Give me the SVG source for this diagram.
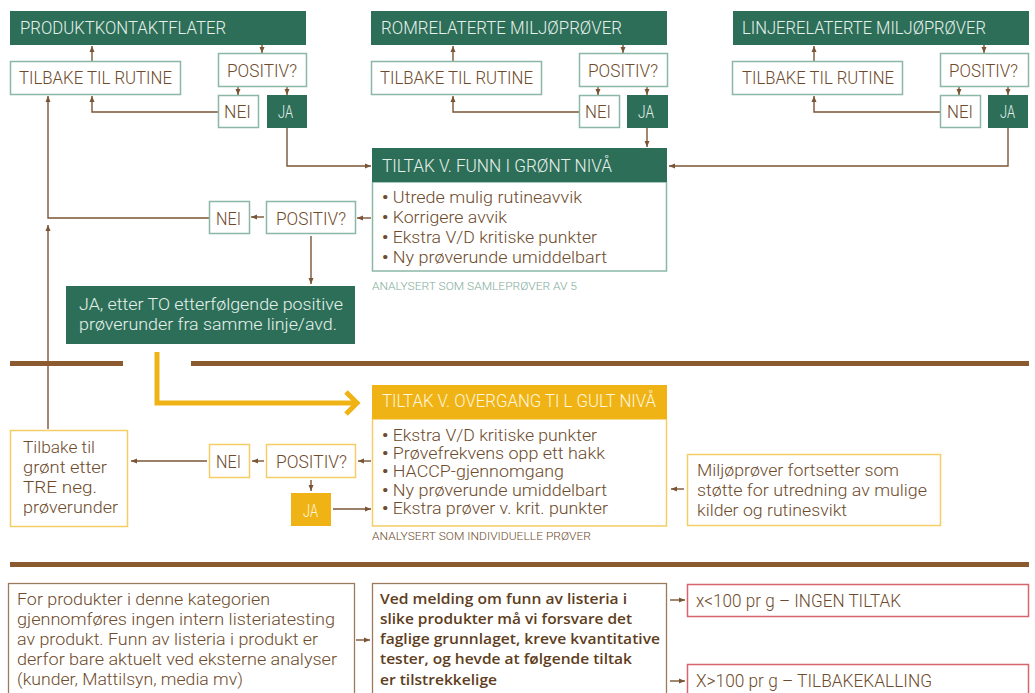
<svg xmlns="http://www.w3.org/2000/svg" width="1035" height="693" viewBox="0 0 1035 693">
<defs>
<style>
text{font-family:Roboto,"Liberation Sans",sans-serif;font-size:17px;font-weight:300;fill:#6e4b2c}
.l{font-size:18px}
.ht{fill:#e6f1eb}
.wt{fill:#fff6df}
.hdr{fill:#2d6e58}
.gold{fill:#f0b315}
.gb{fill:#fff;stroke:#8bb7a6;stroke-width:1.5}
.yb{fill:#fff;stroke:#f4cd66;stroke-width:1.5}
.bb{fill:#fff;stroke:#9c7a5c;stroke-width:1.3}
.rb{fill:#fff;stroke:#d9646e;stroke-width:1.5}
.cap{font-size:11px}
.capg{font-size:11px;fill:#7fac9b}
.semi{font-family:"Open Sans","Liberation Sans",sans-serif;font-size:15px;font-weight:600;fill:#5e3d20}
.b{font-weight:700}
.c{fill:none;stroke:#7a5535;stroke-width:1.4;marker-end:url(#ah)}
.div{stroke:#8b5a2e;stroke-width:5}
.ya{fill:none;stroke:#f0b315;stroke-width:5}
</style>
<marker id="ah" viewBox="0 0 6 6" refX="6" refY="3" markerWidth="6" markerHeight="6" markerUnits="userSpaceOnUse" orient="auto">
<path d="M0,0.5 L6,3 L0,5.5 z" fill="#7a5535"/>
</marker>
</defs>
<rect width="1035" height="693" fill="#fff"/>

<g id="connectors">
<line class="c" x1="92" y1="61" x2="92" y2="46"/>
<line class="c" x1="262" y1="45" x2="262" y2="53"/>
<line class="c" x1="238" y1="87" x2="238" y2="95"/>
<line class="c" x1="287" y1="87" x2="287" y2="95"/>
<polyline class="c" points="218,112 92,112 92,96"/>
<polyline class="c" points="287,128 287,166 371,166"/>
<line class="c" x1="453" y1="61" x2="453" y2="46"/>
<line class="c" x1="623" y1="45" x2="623" y2="53"/>
<line class="c" x1="598" y1="87" x2="598" y2="95"/>
<line class="c" x1="647" y1="87" x2="647" y2="95"/>
<polyline class="c" points="579,112 453,112 453,96"/>
<line class="c" x1="647" y1="128" x2="647" y2="147"/>
<line class="c" x1="814" y1="61" x2="814" y2="46"/>
<line class="c" x1="984" y1="45" x2="984" y2="53"/>
<line class="c" x1="959" y1="87" x2="959" y2="95"/>
<line class="c" x1="1008" y1="87" x2="1008" y2="95"/>
<polyline class="c" points="940,112 814,112 814,96"/>
<polyline class="c" points="1008,128 1008,166 669,166"/>
<line class="c" x1="371" y1="218" x2="357" y2="218"/>
<line class="c" x1="264" y1="217" x2="251" y2="217"/>
<polyline class="c" points="209,218 48,218 48,96"/>
<line class="c" x1="311" y1="236" x2="311" y2="284"/>
<line class="c" x1="48" y1="429" x2="48" y2="225"/>
<polyline class="ya" points="157,352 157,403 356,403"/>
<polyline class="ya" points="346,392 357,403 346,414"/>
<line class="c" x1="371" y1="461" x2="358" y2="461"/>
<line class="c" x1="264" y1="461" x2="252" y2="461"/>
<line class="c" x1="207" y1="461" x2="131" y2="461"/>
<line class="c" x1="311" y1="480" x2="311" y2="491"/>
<line class="c" x1="333" y1="509" x2="371" y2="509"/>
<line class="c" x1="684" y1="489" x2="671" y2="489"/>
<line class="c" x1="356" y1="640" x2="370" y2="640"/>
<line class="c" x1="670" y1="600" x2="685" y2="600"/>
<line class="c" x1="670" y1="681" x2="685" y2="681"/>
</g>

<g id="dividers">
<line class="div" x1="10" y1="363.5" x2="123" y2="363.5"/>
<line class="div" x1="191" y1="363.5" x2="1029" y2="363.5"/>
<line class="div" x1="10" y1="564.5" x2="1029" y2="564.5"/>
</g>

<g id="produktkontaktflater">
<rect class="hdr" x="10" y="11" width="296" height="34"/>
<text class="ht l" x="20" y="34" textLength="206" lengthAdjust="spacingAndGlyphs">PRODUKTKONTAKTFLATER</text>
</g>
<g id="tilbake1">
<rect class="gb" x="10.5" y="61.5" width="170" height="33"/>
<text class="l" x="19" y="84" textLength="153" lengthAdjust="spacingAndGlyphs">TILBAKE TIL RUTINE</text>
</g>
<g id="positiv1">
<rect class="gb" x="218.5" y="53.5" width="88" height="33"/>
<text class="l" x="227" y="77" textLength="70" lengthAdjust="spacingAndGlyphs">POSITIV?</text>
</g>
<g id="nei1">
<rect class="gb" x="218.5" y="95.5" width="40" height="32"/>
<text class="l" x="224" y="118" textLength="27" lengthAdjust="spacingAndGlyphs">NEI</text>
</g>
<g id="ja1">
<rect class="hdr" x="267" y="95" width="40" height="33"/>
<text class="ht l" x="278" y="118" textLength="15" lengthAdjust="spacingAndGlyphs">JA</text>
</g>

<g id="romrelaterte">
<rect class="hdr" x="371" y="11" width="296" height="34"/>
<text class="ht l" x="381" y="34" textLength="241" lengthAdjust="spacingAndGlyphs">ROMRELATERTE MILJØPRØVER</text>
</g>
<g id="tilbake2">
<rect class="gb" x="371.5" y="61.5" width="170" height="33"/>
<text class="l" x="380" y="84" textLength="153" lengthAdjust="spacingAndGlyphs">TILBAKE TIL RUTINE</text>
</g>
<g id="positiv2">
<rect class="gb" x="579.5" y="53.5" width="88" height="33"/>
<text class="l" x="588" y="77" textLength="70" lengthAdjust="spacingAndGlyphs">POSITIV?</text>
</g>
<g id="nei2">
<rect class="gb" x="579.5" y="95.5" width="40" height="32"/>
<text class="l" x="585" y="118" textLength="26" lengthAdjust="spacingAndGlyphs">NEI</text>
</g>
<g id="ja2">
<rect class="hdr" x="627" y="95" width="41" height="33"/>
<text class="ht l" x="638" y="118" textLength="16" lengthAdjust="spacingAndGlyphs">JA</text>
</g>

<g id="linjerelaterte">
<rect class="hdr" x="733" y="11" width="296" height="34"/>
<text class="ht l" x="742" y="34" textLength="244" lengthAdjust="spacingAndGlyphs">LINJERELATERTE MILJØPRØVER</text>
</g>
<g id="tilbake3">
<rect class="gb" x="732.5" y="61.5" width="170" height="33"/>
<text class="l" x="742" y="84" textLength="152" lengthAdjust="spacingAndGlyphs">TILBAKE TIL RUTINE</text>
</g>
<g id="positiv3">
<rect class="gb" x="940.5" y="53.5" width="88" height="33"/>
<text class="l" x="949" y="77" textLength="69" lengthAdjust="spacingAndGlyphs">POSITIV?</text>
</g>
<g id="nei3">
<rect class="gb" x="940.5" y="95.5" width="40" height="32"/>
<text class="l" x="947" y="118" textLength="26" lengthAdjust="spacingAndGlyphs">NEI</text>
</g>
<g id="ja3">
<rect class="hdr" x="988" y="95" width="40" height="33"/>
<text class="ht l" x="1000" y="118" textLength="15" lengthAdjust="spacingAndGlyphs">JA</text>
</g>

<g id="tiltak-gronn">
<rect class="gb" x="372.5" y="182" width="294" height="89"/>
<rect class="hdr" x="372" y="148" width="295" height="34"/>
<text class="ht l" x="382" y="172" textLength="230" lengthAdjust="spacingAndGlyphs">TILTAK V. FUNN I GRØNT NIVÅ</text>
<text x="382" y="203" textLength="200" lengthAdjust="spacingAndGlyphs"><tspan class="b">•</tspan> Utrede mulig rutineavvik</text>
<text x="382" y="223" textLength="125" lengthAdjust="spacingAndGlyphs"><tspan class="b">•</tspan> Korrigere avvik</text>
<text x="382" y="243" textLength="215" lengthAdjust="spacingAndGlyphs"><tspan class="b">•</tspan> Ekstra V/D kritiske punkter</text>
<text x="382" y="263" textLength="225" lengthAdjust="spacingAndGlyphs"><tspan class="b">•</tspan> Ny prøverunde umiddelbart</text>
<text class="capg" x="372" y="290" textLength="205" lengthAdjust="spacingAndGlyphs">ANALYSERT SOM SAMLEPRØVER AV 5</text>
</g>
<g id="positiv-gronn">
<rect class="gb" x="266.5" y="201.5" width="89" height="32"/>
<text class="l" x="276" y="225" textLength="70" lengthAdjust="spacingAndGlyphs">POSITIV?</text>
</g>
<g id="nei-gronn">
<rect class="gb" x="209.5" y="201.5" width="40" height="32"/>
<text class="l" x="216" y="225" textLength="25" lengthAdjust="spacingAndGlyphs">NEI</text>
</g>
<g id="ja-to">
<rect class="hdr" x="66" y="286" width="289" height="58"/>
<text class="ht" x="79" y="310" textLength="264" lengthAdjust="spacingAndGlyphs">JA, etter TO etterfølgende positive</text>
<text class="ht" x="79" y="330" textLength="258" lengthAdjust="spacingAndGlyphs">prøverunder fra samme linje/avd.</text>
</g>

<g id="tiltak-gult">
<rect class="yb" x="372.5" y="419" width="294" height="107"/>
<rect class="gold" x="372" y="385" width="295" height="34"/>
<text class="wt l" x="382" y="407" textLength="274" lengthAdjust="spacingAndGlyphs">TILTAK V. OVERGANG TI L GULT NIVÅ</text>
<text x="382" y="441" textLength="215" lengthAdjust="spacingAndGlyphs"><tspan class="b">•</tspan> Ekstra V/D kritiske punkter</text>
<text x="382" y="459" textLength="223" lengthAdjust="spacingAndGlyphs"><tspan class="b">•</tspan> Prøvefrekvens opp ett hakk</text>
<text x="382" y="477" textLength="182" lengthAdjust="spacingAndGlyphs"><tspan class="b">•</tspan> HACCP-gjennomgang</text>
<text x="382" y="496" textLength="225" lengthAdjust="spacingAndGlyphs"><tspan class="b">•</tspan> Ny prøverunde umiddelbart</text>
<text x="382" y="514" textLength="226" lengthAdjust="spacingAndGlyphs"><tspan class="b">•</tspan> Ekstra prøver v. krit. punkter</text>
<text class="cap" x="372" y="540" textLength="219" lengthAdjust="spacingAndGlyphs">ANALYSERT SOM INDIVIDUELLE PRØVER</text>
</g>
<g id="tilbake-gronn">
<rect class="yb" x="10.5" y="430.5" width="117" height="96"/>
<text x="23" y="453" textLength="72" lengthAdjust="spacingAndGlyphs">Tilbake til</text>
<text x="23" y="473" textLength="84" lengthAdjust="spacingAndGlyphs">grønt etter</text>
<text x="23" y="493" textLength="74" lengthAdjust="spacingAndGlyphs">TRE neg.</text>
<text x="23" y="513" textLength="95" lengthAdjust="spacingAndGlyphs">prøverunder</text>
</g>
<g id="nei-gult">
<rect class="yb" x="209.5" y="444.5" width="40" height="33"/>
<text class="l" x="216" y="468" textLength="25" lengthAdjust="spacingAndGlyphs">NEI</text>
</g>
<g id="positiv-gult">
<rect class="yb" x="266.5" y="444.5" width="89" height="33"/>
<text class="l" x="276" y="468" textLength="71" lengthAdjust="spacingAndGlyphs">POSITIV?</text>
</g>
<g id="ja-gult">
<rect class="gold" x="291" y="493" width="40" height="33"/>
<text class="wt l" x="303" y="517" textLength="15" lengthAdjust="spacingAndGlyphs">JA</text>
</g>
<g id="miljoprover">
<rect class="yb" x="687.5" y="454.5" width="253" height="71"/>
<text x="697" y="476" textLength="202" lengthAdjust="spacingAndGlyphs">Miljøprøver fortsetter som</text>
<text x="697" y="496" textLength="230" lengthAdjust="spacingAndGlyphs">støtte for utredning av mulige</text>
<text x="697" y="516" textLength="150" lengthAdjust="spacingAndGlyphs">kilder og rutinesvikt</text>
</g>

<g id="produkter-info">
<rect class="bb" x="8.5" y="583.5" width="346" height="115"/>
<text x="17" y="605" textLength="253" lengthAdjust="spacingAndGlyphs">For produkter i denne kategorien</text>
<text x="17" y="625" textLength="318" lengthAdjust="spacingAndGlyphs">gjennomføres ingen intern listeriatesting</text>
<text x="17" y="645" textLength="301" lengthAdjust="spacingAndGlyphs">av produkt. Funn av listeria i produkt er</text>
<text x="17" y="665" textLength="320" lengthAdjust="spacingAndGlyphs">derfor bare aktuelt ved eksterne analyser</text>
<text x="17" y="685" textLength="226" lengthAdjust="spacingAndGlyphs">(kunder, Mattilsyn, media mv)</text>
</g>
<g id="melding">
<rect class="bb" x="372.5" y="583.5" width="294" height="115"/>
<text class="semi" x="380" y="604" textLength="247" lengthAdjust="spacingAndGlyphs">Ved melding om funn av listeria i</text>
<text class="semi" x="380" y="624" textLength="252" lengthAdjust="spacingAndGlyphs">slike produkter må vi forsvare det</text>
<text class="semi" x="380" y="644" textLength="280" lengthAdjust="spacingAndGlyphs">faglige grunnlaget, kreve kvantitative</text>
<text class="semi" x="380" y="664" textLength="252" lengthAdjust="spacingAndGlyphs">tester, og hevde at følgende tiltak</text>
<text class="semi" x="380" y="685" textLength="117" lengthAdjust="spacingAndGlyphs">er tilstrekkelige</text>
</g>
<g id="ingen-tiltak">
<rect class="rb" x="687.5" y="584.5" width="341" height="32"/>
<text class="l" x="696" y="607" textLength="205" lengthAdjust="spacingAndGlyphs">x&lt;100 pr g – INGEN TILTAK</text>
</g>
<g id="tilbakekalling">
<rect class="rb" x="687.5" y="664.5" width="341" height="40"/>
<text class="l" x="696" y="687" textLength="236" lengthAdjust="spacingAndGlyphs">X&gt;100 pr g – TILBAKEKALLING</text>
</g>
</svg>
